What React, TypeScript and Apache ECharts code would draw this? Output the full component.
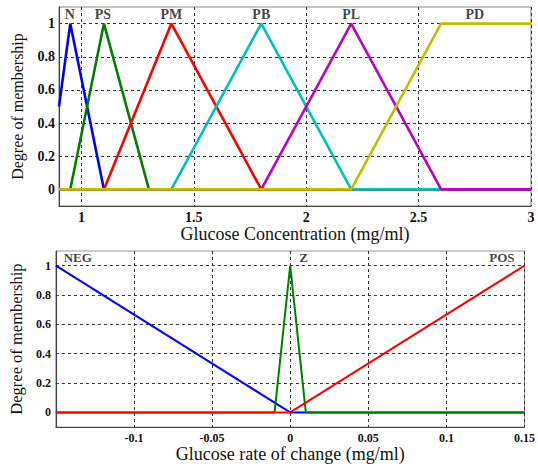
import React, { useEffect, useRef } from "react";
import * as echarts from "echarts";

// ---- Top chart: Glucose Concentration membership functions ----
const topXTicks = [1, 1.5, 2, 2.5, 3];
const yTicks = [0, 0.2, 0.4, 0.6, 0.8, 1];

const nX = [0.9, 0.95, 1.1, 3];
const nY = [0.5, 1, 0, 0];
const psX = [0.9, 0.95, 1.1, 1.3, 3];
const psY = [0, 0, 1, 0, 0];
const pmX = [0.9, 1.1, 1.4, 1.8, 3];
const pmY = [0, 0, 1, 0, 0];
const pbX = [0.9, 1.4, 1.8, 2.2, 3];
const pbY = [0, 0, 1, 0, 0];
const plX = [0.9, 1.8, 2.2, 2.6, 3];
const plY = [0, 0, 1, 0, 0];
const pdX = [0.9, 2.2, 2.6, 3];
const pdY = [0, 0, 1, 1];

const topNames = ["N", "PS", "PM", "PB", "PL", "PD"];
const topLabelX = [0.948, 1.095, 1.4, 1.8, 2.2, 2.75];
const topLabelY = [1.055, 1.055, 1.055, 1.055, 1.055, 1.055];

// ---- Bottom chart: Glucose rate of change membership functions ----
const botXTicks = [-0.1, -0.05, 0, 0.05, 0.1, 0.15];
const negX = [-0.15, 0, 0.15];
const negY = [1, 0, 0];
const zX = [-0.15, -0.01, 0, 0.01, 0.15];
const zY = [0, 0, 1, 0, 0];
const posX = [-0.15, 0, 0.15];
const posY = [0, 0, 1];

const botNames = ["NEG", "Z", "POS"];
const botLabelX = [-0.136, 0.0085, 0.1355];
const botLabelY = [1.055, 1.055, 1.055];

const pairs = (xs: number[], ys: number[]) => xs.map((x, i) => [x, ys[i]]);

const SERIF = "'Liberation Serif', 'Times New Roman', serif";

export default function App() {
  const ref = useRef<HTMLDivElement>(null);
  useEffect(() => {
    if (!ref.current) return;
    const chart = echarts.init(ref.current, null, { renderer: "svg" });

    const splitLine = {
      show: true,
      lineStyle: { color: "#333", type: [3, 3] as any, width: 1 },
    };
    const axisLine = { show: true, onZero: false, lineStyle: { color: "#444", width: 1.2 } };

    const lineSeries = (name: string, xs: number[], ys: number[], color: string, idx: number, w: number) => ({
      type: "line",
      name,
      xAxisIndex: idx,
      yAxisIndex: idx,
      data: pairs(xs, ys),
      showSymbol: false,
      symbol: "none",
      lineStyle: { color, width: w },
      itemStyle: { color },
      z: 2,
    });

    const labelSeries = (names: string[], xs: number[], ys: number[], idx: number, size: number) => ({
      type: "scatter",
      xAxisIndex: idx,
      yAxisIndex: idx,
      symbolSize: 0,
      silent: true,
      z: 5,
      data: names.map((n, i) => ({ value: [xs[i], ys[i]], name: n })),
      label: {
        show: true,
        position: "inside",
        formatter: (p: any) => p.name,
        fontFamily: SERIF,
        fontWeight: "bold",
        fontSize: size,
        color: "#111",
      },
    });

    const option: any = {
      animation: false,
      backgroundColor: "#fff",
      grid: [
        { left: 59, top: 7, width: 472, height: 199, show: true, borderColor: "#888", borderWidth: 1, backgroundColor: "transparent" },
        { left: 55, top: 251, width: 471, height: 179, show: true, borderColor: "#999", borderWidth: 1, backgroundColor: "transparent" },
      ],
      xAxis: [
        {
          type: "value",
          gridIndex: 0,
          min: 0.9,
          max: 3,
          axisLine,
          axisTick: { show: false, customValues: topXTicks },
          axisLabel: {
            customValues: topXTicks,
            fontFamily: SERIF,
            fontWeight: "bold",
            fontSize: 14,
            color: "#111",
            margin: 4,
          },
          splitLine,
          name: "Glucose Concentration (mg/ml)",
          nameLocation: "middle",
          nameGap: 15,
          nameTextStyle: { fontFamily: SERIF, fontSize: 18, color: "#111" },
        },
        {
          type: "value",
          gridIndex: 1,
          min: -0.15,
          max: 0.15,
          axisLine,
          axisTick: { show: false, customValues: botXTicks },
          axisLabel: {
            customValues: botXTicks,
            fontFamily: SERIF,
            fontWeight: "bold",
            fontSize: 12,
            color: "#111",
            margin: 5,
          },
          splitLine,
          name: "Glucose rate of change (mg/ml)",
          nameLocation: "middle",
          nameGap: 8,
          nameTextStyle: { fontFamily: SERIF, fontSize: 18, color: "#111" },
        },
      ],
      yAxis: [
        {
          type: "value",
          gridIndex: 0,
          min: -0.1,
          max: 1.1,
          axisLine,
          axisTick: { show: false, customValues: yTicks },
          axisLabel: {
            customValues: yTicks,
            fontFamily: SERIF,
            fontWeight: "bold",
            fontSize: 14,
            color: "#111",
            margin: 4,
          },
          splitLine,
          name: "Degree of membership",
          nameLocation: "middle",
          nameGap: 34,
          nameTextStyle: { fontFamily: SERIF, fontSize: 16, color: "#111" },
        },
        {
          type: "value",
          gridIndex: 1,
          min: -0.1,
          max: 1.1,
          axisLine,
          axisTick: { show: false, customValues: yTicks },
          axisLabel: {
            customValues: yTicks,
            fontFamily: SERIF,
            fontWeight: "bold",
            fontSize: 12,
            color: "#111",
            margin: 5,
          },
          splitLine,
          name: "Degree of membership",
          nameLocation: "middle",
          nameGap: 30,
          nameTextStyle: { fontFamily: SERIF, fontSize: 16.5, color: "#111" },
        },
      ],
      series: [
        lineSeries("N", nX, nY, "#0000ff", 0, 2.6),
        lineSeries("PS", psX, psY, "#008000", 0, 2.6),
        lineSeries("PM", pmX, pmY, "#ff0000", 0, 2.6),
        lineSeries("PB", pbX, pbY, "#00bfbf", 0, 2.6),
        lineSeries("PL", plX, plY, "#bf00bf", 0, 2.6),
        lineSeries("PD", pdX, pdY, "#bfbf00", 0, 2.6),
        labelSeries(topNames, topLabelX, topLabelY, 0, 14),
        lineSeries("NEG", negX, negY, "#0000ff", 1, 2),
        lineSeries("Z", zX, zY, "#008000", 1, 2),
        lineSeries("POS", posX, posY, "#ff0000", 1, 2),
        labelSeries(botNames, botLabelX, botLabelY, 1, 13),
      ],
    };
    chart.setOption(option);
    return () => chart.dispose();
  }, []);

  return (
    <div
      ref={ref}
      style={{ position: "fixed", left: 0, top: 0, width: 538, height: 464, background: "#fff" }}
    />
  );
}
